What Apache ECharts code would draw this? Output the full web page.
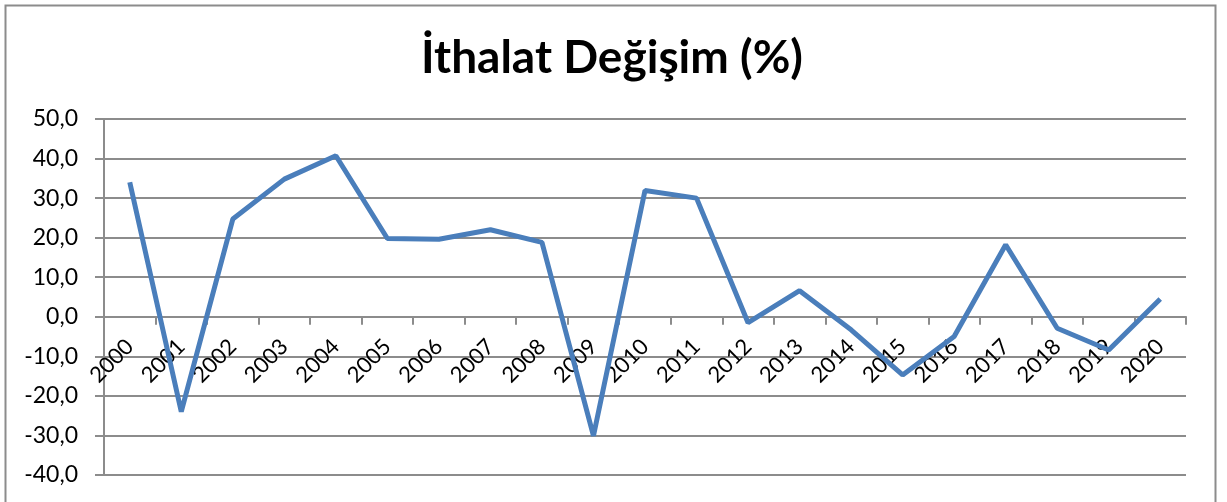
<!DOCTYPE html>
<html>
<head>
<meta charset="utf-8">
<script src="https://cdn.jsdelivr.net/npm/echarts@6/dist/echarts.min.js"></script>
<style>
  html, body { margin: 0; padding: 0; background: #fff; }
  #chart { width: 1227px; height: 502px; }
</style>
</head>
<body>
<div id="chart"></div>
<script>
// yıllar
const years = ['2000', '2001', '2002', '2003', '2004', '2005', '2006', '2007', '2008', '2009', '2010',
  '2011', '2012', '2013', '2014', '2015', '2016', '2017', '2018', '2019', '2020']
// ithalat değişim (%)
const importChange = [34.0, -24.0, 24.7, 34.8, 40.7, 19.8, 19.6, 22.0, 18.8, -30.1, 31.9,
  30.0, -1.5, 6.6, -3.3, -14.7, -5.0, 18.2, -2.9, -8.4, 4.5]

const chart = echarts.init(document.getElementById('chart'))
const gridColor = '#8c8c8c'

chart.setOption({
  backgroundColor: '#fff',
  animation: false,
  title: {
    text: 'İthalat Değişim (%)',
    left: 607,
    textAlign: 'center',
    top: 30,
    textStyle: { fontFamily: 'Lato', fontWeight: 'bold', fontSize: 46, color: '#000' }
  },
  // dış çerçeve
  graphic: [{
    type: 'rect',
    shape: { x: 5.5, y: 5.5, width: 1210, height: 600 },
    style: { fill: 'none', stroke: '#8c8c8c', lineWidth: 2 },
    silent: true
  }],
  grid: { left: 104, right: 41, top: 119, bottom: 27, outerBoundsMode: 'none' },
  xAxis: {
    type: 'category',
    data: years,
    boundaryGap: true,
    axisLine: { onZero: true, lineStyle: { color: gridColor, width: 2 } },
    axisTick: { show: true, inside: false, length: 8, lineStyle: { color: gridColor, width: 2 } },
    axisLabel: {
      rotate: 45,
      interval: 0,
      // etiketler alt kenarda kalıyor, sıfır çizgisinin altına çek
      margin: -132,
      color: '#000',
      fontFamily: 'Lato',
      fontSize: 22
    },
    splitLine: { show: false }
  },
  yAxis: {
    type: 'value',
    min: -40,
    max: 50,
    interval: 10,
    axisLine: { show: true, lineStyle: { color: gridColor, width: 2 } },
    axisTick: { show: true, length: 9, lineStyle: { color: gridColor, width: 2 } },
    axisLabel: {
      margin: 26,
      color: '#000',
      fontFamily: 'Lato',
      fontSize: 23,
      formatter: v => v.toFixed(1).replace('.', ',')
    },
    splitLine: { lineStyle: { color: gridColor, width: 2 } }
  },
  series: [{
    name: 'İthalat Değişim (%)',
    type: 'line',
    data: importChange,
    showSymbol: false,
    lineStyle: { color: '#4a7ebb', width: 5 },
    z: 5
  }]
})
</script>
</body>
</html>
